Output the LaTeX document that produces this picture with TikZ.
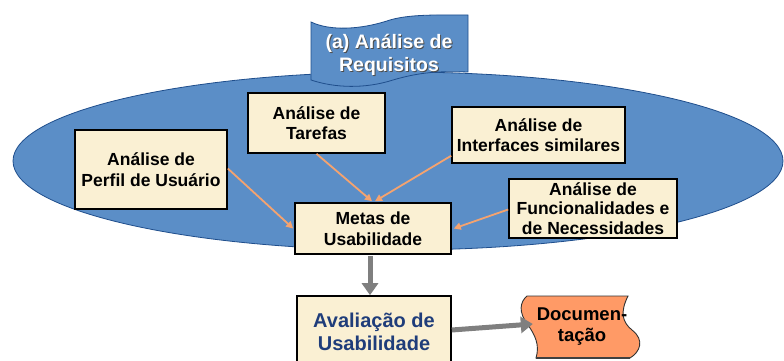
\documentclass[tikz,border=0pt]{standalone}
\usepackage{fontspec}
\setmainfont{Liberation Sans}
\usetikzlibrary{arrows.meta,calc}
\definecolor{ellfill}{HTML}{5B8EC7}
\definecolor{elledge}{HTML}{1F4E8C}
\definecolor{boxfill}{HTML}{FAF0D3}
\definecolor{orangeline}{HTML}{F5A36F}
\definecolor{docfill}{HTML}{FF9A66}
\definecolor{grayarrow}{HTML}{7F7F7F}
\definecolor{avaltext}{HTML}{1F3D7A}
\begin{document}
\begin{tikzpicture}[x=1pt,y=-1pt,
  box/.style={draw=black,line width=1.6pt,fill=boxfill,inner sep=0pt,align=center,
    font=\fontsize{17.5}{20.5}\selectfont\bfseries},
  orangearrow/.style={draw=orangeline,line width=1.8pt,-{Triangle[length=7pt,width=7pt]}},
  grayarr/.style={draw=grayarrow,line width=5pt,-{Triangle[length=12pt,width=16pt]}}]
\useasboundingbox (0,0) rectangle (784,361);
% ellipse
\draw[fill=ellfill,draw=elledge,line width=0.8pt] (398,161) ellipse [x radius=385pt,y radius=89pt];
% banner
\draw[fill=ellfill,draw=elledge,line width=0.8pt]
  (311,22) .. controls (330,31) and (360,30) .. (390,20) .. controls (410,14) and (440,15) .. (468,15)
  -- (468,72) .. controls (440,71) and (420,72) .. (393,80) .. controls (365,89) and (335,88) .. (311,80) -- cycle;
\node[text=black!70,align=center,font=\fontsize{19.5}{23.5}\selectfont\bfseries] at (390,56) {(a) Análise de\\Requisitos};
\node[text=white,align=center,font=\fontsize{19.5}{23.5}\selectfont\bfseries] (banner) at (389,55) {(a) Análise de\\Requisitos};
% boxes
\node[box,minimum width=137pt,minimum height=60pt] (tarefas) at (316.5,123) {Análise de\\Tarefas};
\node[box,minimum width=152pt,minimum height=79pt] (perfil) at (151,169.5) {Análise de\\Perfil de Usuário};
\node[box,minimum width=156pt,minimum height=51pt] (metas) at (373,228.5) {Metas de\\Usabilidade};
\node[box,minimum width=173pt,minimum height=56pt] (interf) at (538.5,135) {Análise de\\Interfaces similares};
\node[box,minimum width=168pt,minimum height=59pt,font=\fontsize{17.5}{19.5}\selectfont\bfseries] (func) at (593,208.5) {Análise de\\Funcionalidades e\\de Necessidades};
\node[box,minimum width=154pt,minimum height=72pt,text=avaltext,font=\fontsize{20}{23}\selectfont\bfseries] (aval) at (374,332) {Avaliação de\\Usabilidade};
% documentation shape
\draw[fill=docfill,draw=black!80,line width=0.9pt]
  (527,296) -- (628,296) .. controls (620,312) and (622,322) .. (632,330)
  .. controls (645,340) and (640,352) .. (630,358) -- (536,358)
  .. controls (540,345) and (535,335) .. (528,325) .. controls (518,312) and (520,302) .. (527,296) -- cycle;
\draw[black!75,line width=2pt] (536,358) -- (630,358);
\node[inner sep=0pt,minimum width=112pt,minimum height=62pt,align=center,
  font=\fontsize{18.5}{21}\selectfont\bfseries] (doc) at (582,327) {Documen-\\tação};
% connectors
\draw[orangearrow] ($(perfil.east)+(0,-1)$) -- ($(metas.west)+(-1,0)$);
\draw[orangearrow] (tarefas.south) -- ($(metas.north)+(-1,-1)$);
\draw[orangearrow] ($(interf.west)!0.72!(interf.south west)$) -- ($(metas.north)+(2,-1)$);
\draw[orangearrow] ($(func.west)+(0,1)$) -- ($(metas.east)+(2,0)$);
\draw[grayarr] ($(metas.south)+(-3,1)$) -- ($(aval.north)+(-4,0)$);
\draw[grayarr] ($(aval.east)+(0,-2)$) -- ($(doc.west)+(7,-3)$);
\end{tikzpicture}
\end{document}
